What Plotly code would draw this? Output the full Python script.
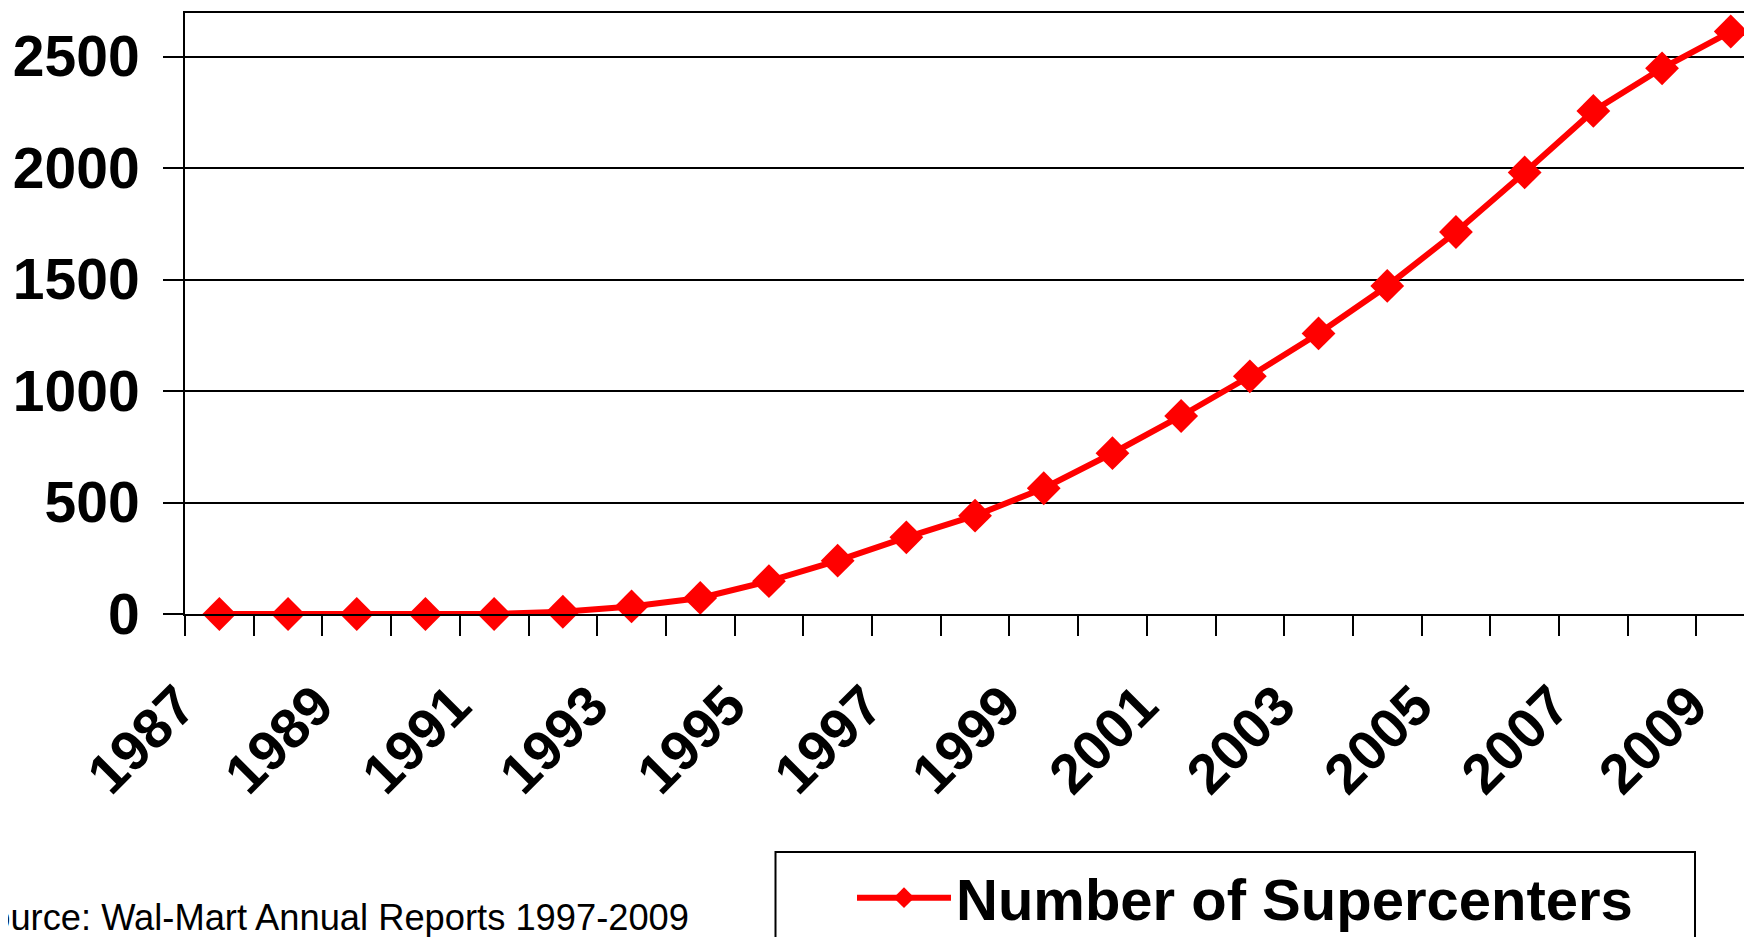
import plotly.graph_objects as go

# ---- data ----
years = list(range(1987, 2010))
supercenters = [0, 0, 0, 0, 0, 10, 34, 72, 147, 239, 344, 441, 564,
                721, 888, 1066, 1258, 1471, 1713, 1980, 2256, 2447, 2612]
label_years = years[::2]
tick_labels = [str(y) for y in label_years]
y_ticks = [0, 500, 1000, 1500, 2000, 2500]
series_name = "Number of Supercenters"
source_text = "Source: Wal-Mart Annual Reports 1997-2009"

# ---- geometry (pixels) ----
PAGE_OFFSET = 8            # default body margin of the html page
W, H = 1752 - PAGE_OFFSET, 937 - PAGE_OFFSET
L, R, T, B = 177, 0, 5, 323
plot_w = W - L - R
plot_h = H - T - B
px_per_year = 68.7
px_per_unit = 111.5 / 500.0
x_lo = years[0] - 0.5
x_hi = x_lo + plot_w / px_per_year
y_hi = plot_h / px_per_unit

def px_to_paper_x(px):      # px measured in window pixels
    return (px - PAGE_OFFSET - L) / plot_w

def py_to_paper_y(py):
    return (H - B - (py - PAGE_OFFSET)) / plot_h

FONT = "Arial, Liberation Sans, sans-serif"

fig = go.Figure()
fig.add_trace(go.Scatter(
    x=years, y=supercenters, mode="lines+markers", name=series_name,
    line=dict(color="#FF0000", width=6),
    marker=dict(symbol="diamond", size=26, color="#FF0000"),
    cliponaxis=False,
))

fig.update_layout(
    width=W, height=H,
    margin=dict(l=L, r=R, t=T, b=B, autoexpand=False),
    paper_bgcolor="white", plot_bgcolor="white",
    font=dict(family=FONT, color="black"),
    showlegend=True,
    legend=dict(
        x=px_to_paper_x(852), y=py_to_paper_y(898), xanchor="left", yanchor="middle",
        xref="paper", yref="paper",
        font=dict(size=58, family=FONT, weight="bold", color="black"),
        bgcolor="rgba(0,0,0,0)", borderwidth=0,
        itemwidth=94,
    ),
    xaxis=dict(
        type="linear", range=[x_lo, x_hi],
        tickmode="array", tickvals=label_years, ticktext=tick_labels,
        tickangle=-45, ticks="", showgrid=False, zeroline=False,
        tickfont=dict(size=56, family=FONT, weight="bold", color="black"),
        ticklabelshift=-40, ticklabelstandoff=34,
        showline=True, linecolor="black", linewidth=2, mirror=True,
        minor=dict(ticks="outside", ticklen=20, tickwidth=2, tickcolor="black",
                   tick0=x_lo, dtick=1, showgrid=False),
    ),
    yaxis=dict(
        range=[0, y_hi], tickmode="array", tickvals=y_ticks,
        ticks="outside", ticklen=20, tickwidth=2, tickcolor="black",
        showgrid=True, gridcolor="black", gridwidth=2,
        zeroline=False, showline=True, linecolor="black", linewidth=2,
        tickfont=dict(size=57, family=FONT, weight="bold", color="black"),
        ticklabelstandoff=12,
    ),
    shapes=[dict(
        type="rect", xref="paper", yref="paper",
        x0=px_to_paper_x(775.5), x1=px_to_paper_x(1695),
        y0=py_to_paper_y(852), y1=py_to_paper_y(1000),
        line=dict(color="black", width=2), fillcolor="rgba(0,0,0,0)", layer="above",
    )],
    annotations=[dict(
        text=source_text, xref="paper", yref="paper",
        x=px_to_paper_x(691), y=py_to_paper_y(917), xanchor="right", yanchor="middle",
        showarrow=False, font=dict(size=36.3, family=FONT, color="black"),
    )],
)

fig.write_html("out.html")
